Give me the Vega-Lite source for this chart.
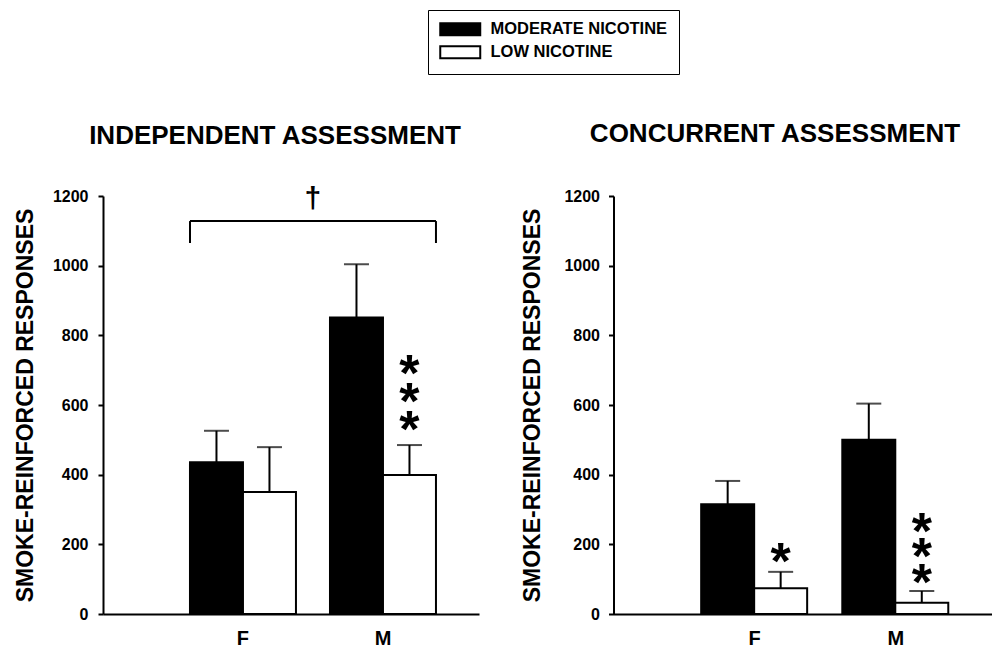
{
  "$schema": "https://vega.github.io/schema/vega-lite/v6.json",
  "padding": {"left": 14, "top": 9, "right": 2, "bottom": 0},
  "datasets": {
    "bars": [
      {"panel": "INDEPENDENT ASSESSMENT", "sex": "F", "level": "MODERATE NICOTINE", "mean": 436, "upper": 526},
      {"panel": "INDEPENDENT ASSESSMENT", "sex": "F", "level": "LOW NICOTINE", "mean": 350, "upper": 479},
      {"panel": "INDEPENDENT ASSESSMENT", "sex": "M", "level": "MODERATE NICOTINE", "mean": 851, "upper": 1004},
      {"panel": "INDEPENDENT ASSESSMENT", "sex": "M", "level": "LOW NICOTINE", "mean": 399, "upper": 485},
      {"panel": "CONCURRENT ASSESSMENT", "sex": "F", "level": "MODERATE NICOTINE", "mean": 315, "upper": 382},
      {"panel": "CONCURRENT ASSESSMENT", "sex": "F", "level": "LOW NICOTINE", "mean": 74, "upper": 121},
      {"panel": "CONCURRENT ASSESSMENT", "sex": "M", "level": "MODERATE NICOTINE", "mean": 500, "upper": 604},
      {"panel": "CONCURRENT ASSESSMENT", "sex": "M", "level": "LOW NICOTINE", "mean": 32, "upper": 66}
    ],
    "stars": [
      {"panel": "INDEPENDENT ASSESSMENT", "sex": "M", "level": "LOW NICOTINE", "y": 712},
      {"panel": "INDEPENDENT ASSESSMENT", "sex": "M", "level": "LOW NICOTINE", "y": 632},
      {"panel": "INDEPENDENT ASSESSMENT", "sex": "M", "level": "LOW NICOTINE", "y": 551},
      {"panel": "CONCURRENT ASSESSMENT", "sex": "F", "level": "LOW NICOTINE", "y": 172},
      {"panel": "CONCURRENT ASSESSMENT", "sex": "M", "level": "LOW NICOTINE", "y": 258},
      {"panel": "CONCURRENT ASSESSMENT", "sex": "M", "level": "LOW NICOTINE", "y": 187},
      {"panel": "CONCURRENT ASSESSMENT", "sex": "M", "level": "LOW NICOTINE", "y": 112}
    ],
    "bracket": [
      {"panel": "INDEPENDENT ASSESSMENT", "from": "F", "to": "M", "top": 1128, "bottom": 1065, "symbol": "†", "symbol_y": 1191}
    ]
  },
  "config": {
    "font": "Liberation Sans",
    "view": {"stroke": null},
    "axis": {"domainColor": "black", "domainWidth": 2, "tickColor": "black", "tickWidth": 2, "labelColor": "black", "titleColor": "black", "grid": false, "labelFontWeight": "bold", "titleFontWeight": "bold"},
    "axisY": {"tickSize": 5, "labelFontSize": 16, "labelPadding": 10, "titleFontSize": 23, "titlePadding": 14.5, "format": "d"},
    "axisX": {"ticks": false, "labelFontSize": 20, "labelPadding": 14, "labelAngle": 0},
    "title": {"fontSize": 26, "fontWeight": "bold", "color": "black"}
  },
  "resolve": {"scale": {"fill": "shared"}, "legend": {"fill": "shared"}},
  "spacing": 41.5,
  "hconcat": [
    {
      "width": 376,
      "height": 418,
      "title": {"text": "INDEPENDENT ASSESSMENT", "dx": -16, "offset": 35},
      "layer": [
        {
          "data": {"name": "bars"},
          "transform": [{"filter": "datum.panel === 'INDEPENDENT ASSESSMENT'"}],
          "mark": {"type": "bar", "stroke": "black", "strokeWidth": 2},
          "encoding": {
            "x": {"field": "sex", "type": "nominal", "title": null, "scale": {"domain": ["F", "M"], "paddingInner": 0.243, "paddingOuter": 0.4643, "align": 0.669}},
            "xOffset": {"field": "level", "type": "nominal", "scale": {"domain": ["MODERATE NICOTINE", "LOW NICOTINE"], "paddingInner": 0, "paddingOuter": 0}},
            "y": {"field": "mean", "type": "quantitative", "title": "SMOKE-REINFORCED RESPONSES", "scale": {"domain": [0, 1200]}, "axis": {"values": [0, 200, 400, 600, 800, 1000, 1200]}},
            "fill": {"field": "level", "type": "nominal", "scale": {"domain": ["MODERATE NICOTINE", "LOW NICOTINE"], "range": ["black", "white"]},
              "legend": {"title": null, "orient": "none", "legendX": 325, "legendY": -186, "direction": "vertical", "strokeColor": "black", "padding": 11, "rowPadding": 2, "labelFontSize": 16.5, "labelFontWeight": "bold", "labelColor": "black", "labelLimit": 400, "symbolType": "M-2.857,-0.857H2.857V0.857H-2.857Z", "symbolSize": 196, "symbolOffset": 13, "labelOffset": 22, "symbolStrokeColor": "black", "symbolStrokeWidth": 2, "symbolOpacity": 1}}
          }
        },
        {
          "data": {"name": "bars"},
          "transform": [{"filter": "datum.panel === 'INDEPENDENT ASSESSMENT'"}],
          "mark": {"type": "rule", "color": "black", "strokeWidth": 2},
          "encoding": {
            "x": {"field": "sex", "type": "nominal", "title": null},
            "xOffset": {"field": "level", "type": "nominal"},
            "y": {"field": "mean", "type": "quantitative", "title": "SMOKE-REINFORCED RESPONSES"},
            "y2": {"field": "upper"}
          }
        },
        {
          "data": {"name": "bars"},
          "transform": [{"filter": "datum.panel === 'INDEPENDENT ASSESSMENT'"}],
          "mark": {"type": "tick", "color": "black", "thickness": 2, "size": 25},
          "encoding": {
            "x": {"field": "sex", "type": "nominal", "title": null},
            "xOffset": {"field": "level", "type": "nominal"},
            "y": {"field": "upper", "type": "quantitative", "title": "SMOKE-REINFORCED RESPONSES"}
          }
        },
        {
          "data": {"name": "stars"},
          "transform": [{"filter": "datum.panel === 'INDEPENDENT ASSESSMENT'"}],
          "mark": {"type": "text", "text": "*", "fontSize": 52, "fontWeight": "bold", "color": "black", "baseline": "middle", "dy": 9},
          "encoding": {
            "x": {"field": "sex", "type": "nominal", "title": null},
            "xOffset": {"field": "level", "type": "nominal"},
            "y": {"field": "y", "type": "quantitative", "title": "SMOKE-REINFORCED RESPONSES"}
          }
        },
        {
          "data": {"name": "bracket"},
          "mark": {"type": "rule", "color": "black", "strokeWidth": 2},
          "encoding": {
            "x": {"field": "from", "type": "nominal", "title": null, "bandPosition": 0},
            "x2": {"field": "to", "bandPosition": 1},
            "y": {"field": "top", "type": "quantitative", "title": "SMOKE-REINFORCED RESPONSES"}
          }
        },
        {
          "data": {"name": "bracket"},
          "mark": {"type": "rule", "color": "black", "strokeWidth": 2},
          "encoding": {
            "x": {"field": "from", "type": "nominal", "title": null, "bandPosition": 0},
            "y": {"field": "bottom", "type": "quantitative", "title": "SMOKE-REINFORCED RESPONSES"},
            "y2": {"field": "top"}
          }
        },
        {
          "data": {"name": "bracket"},
          "mark": {"type": "rule", "color": "black", "strokeWidth": 2},
          "encoding": {
            "x": {"field": "to", "type": "nominal", "title": null, "bandPosition": 1},
            "y": {"field": "bottom", "type": "quantitative", "title": "SMOKE-REINFORCED RESPONSES"},
            "y2": {"field": "top"}
          }
        },
        {
          "data": {"name": "bracket"},
          "mark": {"type": "text", "fontSize": 30, "fontWeight": "bold", "color": "black", "baseline": "middle"},
          "encoding": {
            "x": {"field": "from", "type": "nominal", "title": null, "bandPosition": 1.16},
            "y": {"field": "symbol_y", "type": "quantitative", "title": "SMOKE-REINFORCED RESPONSES"},
            "text": {"field": "symbol"}
          }
        }
      ]
    },
    {
      "width": 379,
      "height": 418,
      "title": {"text": "CONCURRENT ASSESSMENT", "dx": -28, "offset": 41},
      "layer": [
        {
          "data": {"name": "bars"},
          "transform": [{"filter": "datum.panel === 'CONCURRENT ASSESSMENT'"}],
          "mark": {"type": "bar", "stroke": "black", "strokeWidth": 2},
          "encoding": {
            "x": {"field": "sex", "type": "nominal", "title": null, "scale": {"domain": ["F", "M"], "paddingInner": 0.243, "paddingOuter": 0.4643, "align": 0.669}},
            "xOffset": {"field": "level", "type": "nominal", "scale": {"domain": ["MODERATE NICOTINE", "LOW NICOTINE"], "paddingInner": 0, "paddingOuter": 0}},
            "y": {"field": "mean", "type": "quantitative", "title": "SMOKE-REINFORCED RESPONSES", "scale": {"domain": [0, 1200]}, "axis": {"values": [0, 200, 400, 600, 800, 1000, 1200], "titlePadding": 19.5, "labelPadding": 9}},
            "fill": {"field": "level", "type": "nominal"}
          }
        },
        {
          "data": {"name": "bars"},
          "transform": [{"filter": "datum.panel === 'CONCURRENT ASSESSMENT'"}],
          "mark": {"type": "rule", "color": "black", "strokeWidth": 2},
          "encoding": {
            "x": {"field": "sex", "type": "nominal", "title": null},
            "xOffset": {"field": "level", "type": "nominal"},
            "y": {"field": "mean", "type": "quantitative", "title": "SMOKE-REINFORCED RESPONSES"},
            "y2": {"field": "upper"}
          }
        },
        {
          "data": {"name": "bars"},
          "transform": [{"filter": "datum.panel === 'CONCURRENT ASSESSMENT'"}],
          "mark": {"type": "tick", "color": "black", "thickness": 2, "size": 25},
          "encoding": {
            "x": {"field": "sex", "type": "nominal", "title": null},
            "xOffset": {"field": "level", "type": "nominal"},
            "y": {"field": "upper", "type": "quantitative", "title": "SMOKE-REINFORCED RESPONSES"}
          }
        },
        {
          "data": {"name": "stars"},
          "transform": [{"filter": "datum.panel === 'CONCURRENT ASSESSMENT'"}],
          "mark": {"type": "text", "text": "*", "fontSize": 52, "fontWeight": "bold", "color": "black", "baseline": "middle", "dy": 9},
          "encoding": {
            "x": {"field": "sex", "type": "nominal", "title": null},
            "xOffset": {"field": "level", "type": "nominal"},
            "y": {"field": "y", "type": "quantitative", "title": "SMOKE-REINFORCED RESPONSES"}
          }
        }
      ]
    }
  ]
}
